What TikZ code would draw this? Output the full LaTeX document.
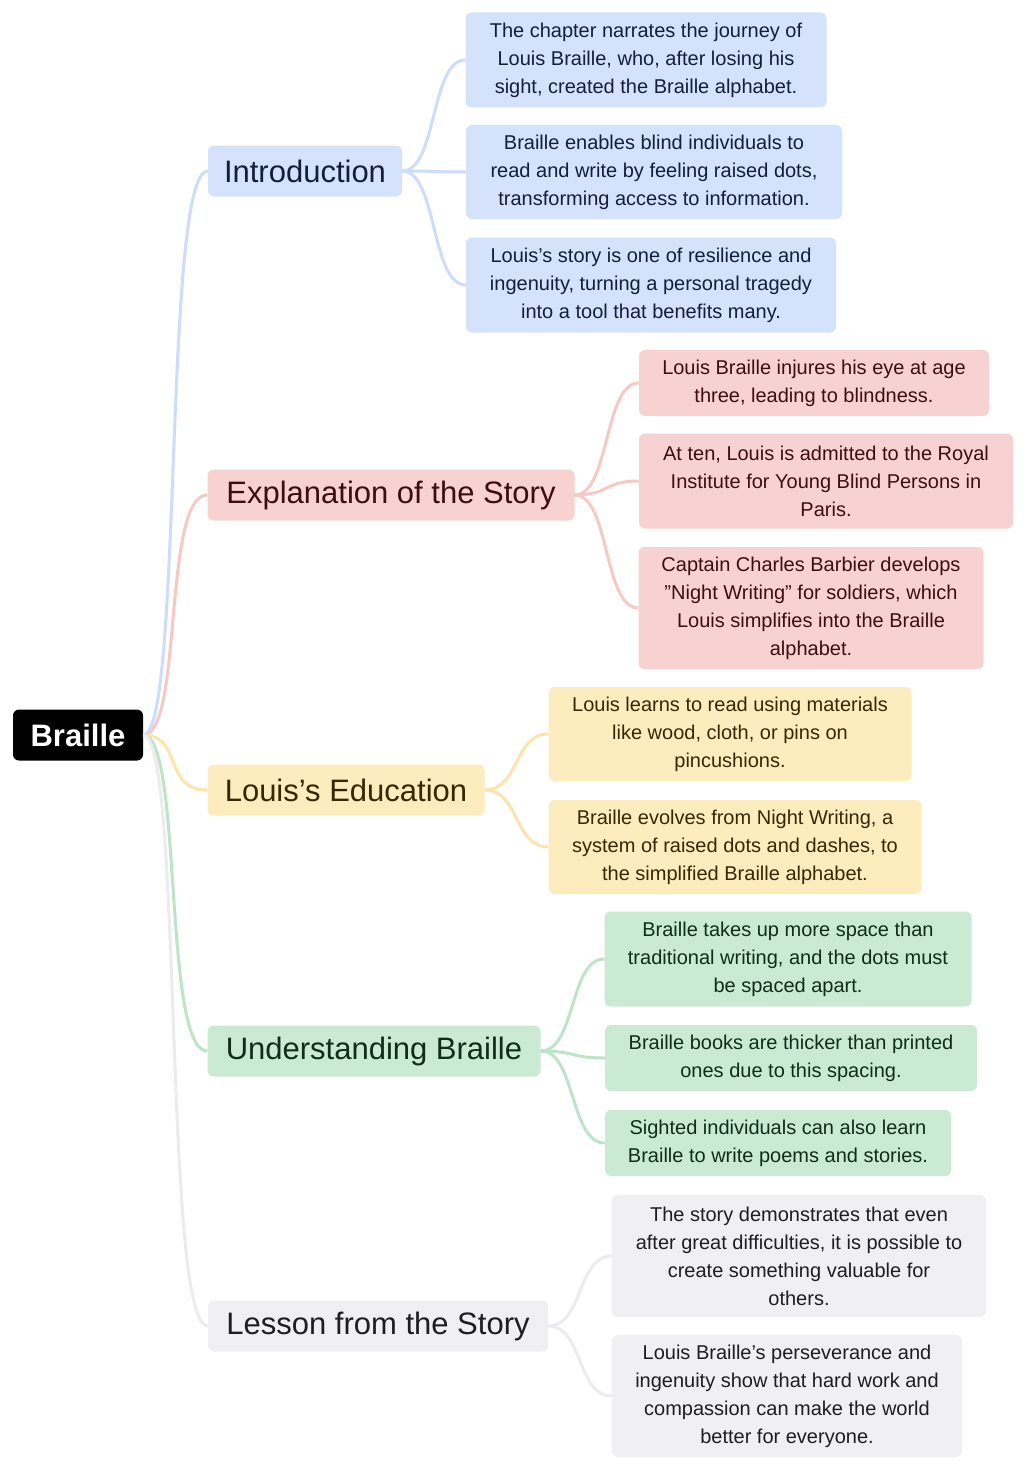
\documentclass[tikz,border=0pt]{standalone}
\usepackage{fontspec}
\setmainfont{Liberation Sans}
\definecolor{bF}{RGB}{212,226,251}\definecolor{bE}{RGB}{205,220,250}\definecolor{bT}{RGB}{20,30,60}
\definecolor{rF}{RGB}{248,210,208}\definecolor{rE}{RGB}{246,200,198}\definecolor{rT}{RGB}{60,15,15}
\definecolor{yF}{RGB}{253,236,190}\definecolor{yE}{RGB}{252,228,170}\definecolor{yT}{RGB}{55,40,5}
\definecolor{gF}{RGB}{202,234,212}\definecolor{gE}{RGB}{190,228,200}\definecolor{gT}{RGB}{15,45,25}
\definecolor{kF}{RGB}{240,240,242}\definecolor{kE}{RGB}{236,236,238}\definecolor{kT}{RGB}{30,30,30}
\begin{document}
\begin{tikzpicture}[x=1pt,y=-1pt,
  leaf/.style={rounded corners=6pt,align=center,font=\fontsize{20}{28}\selectfont,inner sep=0pt,anchor=center},
  branch/.style={rounded corners=6pt,align=center,font=\fontsize{31}{36}\selectfont,inner sep=0pt,minimum height=51pt,anchor=center},
  con/.style={line width=3pt}]
\useasboundingbox (0,0) rectangle (1024,1469);
\fill[white] (0,0) rectangle (1024,1469);
\newcommand{\lf}[8]{\node[leaf,fill=#6,text=#7,minimum width=#4pt,minimum height=#5pt] (#1) at (#2,#3) {#8};}
% root
\node[rounded corners=6pt,fill=black,text=white,font=\fontsize{31}{36}\selectfont\bfseries,minimum width=130pt,minimum height=51pt,inner sep=0pt] (root) at (78,735) {Braille};
% branches
\node[branch,fill=bF,text=bT,minimum width=194pt] (intro) at (305,171) {Introduction};
\node[branch,fill=rF,text=rT,minimum width=367pt] (expl) at (391,495) {Explanation of the Story};
\node[branch,fill=yF,text=yT,minimum width=277pt] (edu) at (346,790) {Louis's Education};
\node[branch,fill=gF,text=gT,minimum width=333pt] (und) at (374,1051) {Understanding Braille};
\node[branch,fill=kF,text=kT,minimum width=340pt] (les) at (378,1326) {Lesson from the Story};
% leaves
\lf{i1}{646}{60}{361}{95}{bF}{bT}{The chapter narrates the journey of\\Louis Braille, who, after losing his\\sight, created the Braille alphabet.}
\lf{i2}{654}{172}{376}{94}{bF}{bT}{Braille enables blind individuals to\\read and write by feeling raised dots,\\transforming access to information.}
\lf{i3}{651}{285}{370}{95}{bF}{bT}{Louis's story is one of resilience and\\ingenuity, turning a personal tragedy\\into a tool that benefits many.}
\lf{e1}{814}{383}{350}{66}{rF}{rT}{Louis Braille injures his eye at age\\three, leading to blindness.}
\lf{e2}{826}{481}{374}{95}{rF}{rT}{At ten, Louis is admitted to the Royal\\Institute for Young Blind Persons in\\Paris.}
\lf{e3}{811}{608}{345}{122}{rF}{rT}{Captain Charles Barbier develops\\"Night Writing" for soldiers, which\\Louis simplifies into the Braille\\alphabet.}
\lf{d1}{730}{734}{363}{94}{yF}{yT}{Louis learns to read using materials\\like wood, cloth, or pins on\\pincushions.}
\lf{d2}{735}{847}{373}{94}{yF}{yT}{Braille evolves from Night Writing, a\\system of raised dots and dashes, to\\the simplified Braille alphabet.}
\lf{u1}{788}{959}{367}{95}{gF}{gT}{Braille takes up more space than\\traditional writing, and the dots must\\be spaced apart.}
\lf{u2}{791}{1058}{372}{66}{gF}{gT}{Braille books are thicker than printed\\ones due to this spacing.}
\lf{u3}{778}{1143}{346}{66}{gF}{gT}{Sighted individuals can also learn\\Braille to write poems and stories.}
\lf{l1}{799}{1256}{374}{122}{kF}{kT}{The story demonstrates that even\\after great difficulties, it is possible to\\create something valuable for\\others.}
\lf{l2}{787}{1396}{350}{122}{kF}{kT}{Louis Braille's perseverance and\\ingenuity show that hard work and\\compassion can make the world\\better for everyone.}
% connectors
\begin{scope}[on background layer/.style={}]
\foreach \b/\c in {intro/bE,expl/rE,edu/yE,und/gE,les/kE}
  \draw[con,\c] (root.east) .. controls +(40,0) and +(-45,0) .. (\b.west);
\foreach \l in {i1,i2,i3} \draw[con,bE] (intro.east) .. controls +(35,0) and +(-35,0) .. (\l.west);
\foreach \l in {e1,e2,e3} \draw[con,rE] (expl.east) .. controls +(35,0) and +(-35,0) .. (\l.west);
\foreach \l in {d1,d2} \draw[con,yE] (edu.east) .. controls +(35,0) and +(-35,0) .. (\l.west);
\foreach \l in {u1,u2,u3} \draw[con,gE] (und.east) .. controls +(35,0) and +(-35,0) .. (\l.west);
\foreach \l in {l1,l2} \draw[con,kE] (les.east) .. controls +(35,0) and +(-35,0) .. (\l.west);
\end{scope}
\end{tikzpicture}
\end{document}
